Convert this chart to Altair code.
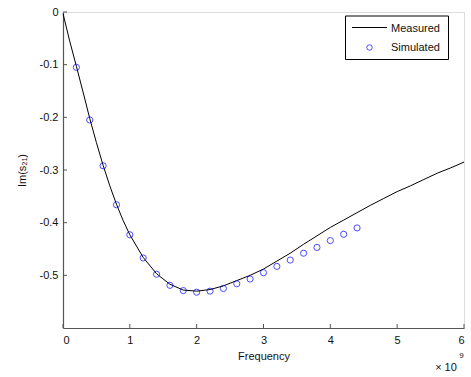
import altair as alt
import pandas as pd

# ---- data (frequency in units of 1e9 Hz) ----
freq_meas = [0.0, 0.1, 0.2, 0.3, 0.4, 0.5, 0.6, 0.7, 0.8, 0.9, 1.0, 1.2, 1.4, 1.6, 1.8,
             2.0, 2.2, 2.4, 2.6, 2.8, 3.0, 3.2, 3.4, 3.6, 3.8, 4.0, 4.2, 4.4, 4.6, 4.8,
             5.0, 5.2, 5.4, 5.6, 5.8, 6.0]
im_meas = [-0.003, -0.055, -0.103, -0.152, -0.202, -0.248, -0.291, -0.330, -0.365, -0.396,
           -0.423, -0.466, -0.497, -0.517, -0.528, -0.530, -0.527, -0.520, -0.510, -0.500,
           -0.488, -0.473, -0.458, -0.441, -0.425, -0.409, -0.395, -0.381, -0.367, -0.354,
           -0.341, -0.330, -0.318, -0.306, -0.296, -0.285]

freq_sim = [0.2, 0.4, 0.6, 0.8, 1.0, 1.2, 1.4, 1.6, 1.8, 2.0, 2.2, 2.4, 2.6, 2.8, 3.0,
            3.2, 3.4, 3.6, 3.8, 4.0, 4.2, 4.4]
im_sim = [-0.105, -0.205, -0.292, -0.366, -0.423, -0.467, -0.498, -0.519, -0.529, -0.532,
          -0.530, -0.525, -0.516, -0.507, -0.495, -0.483, -0.471, -0.458, -0.447, -0.434,
          -0.422, -0.410]

x_ticks = [0, 1, 2, 3, 4, 5, 6]
y_ticks = [0, -0.1, -0.2, -0.3, -0.4, -0.5]
legend_labels = ["Measured", "Simulated"]
x_title = "Frequency"
y_title = "Im(s\u2082\u2081)"
exp_base = "\u00d7 10"
exp_power = "9"

W, H = 401, 316
FONT = "Liberation Sans"
AX = "#555555"

xs = alt.Scale(domain=[0, 6], nice=False, zero=False)
ys = alt.Scale(domain=[-0.6, 0], nice=False, zero=False)

meas = pd.DataFrame({"x": freq_meas, "y": im_meas})
sim = pd.DataFrame({"x": freq_sim, "y": im_sim})
xt = pd.DataFrame({"x": x_ticks})
yt = pd.DataFrame({"y": y_ticks})
one = pd.DataFrame({"k": [0]})

x_axis = alt.Axis(values=x_ticks, title=x_title, grid=False, ticks=False,
                  domainColor=AX, domainWidth=1.2, labelPadding=6,
                  labelFont=FONT, labelFontSize=11, labelColor="#111",
                  titleFont=FONT, titleFontSize=11, titleFontWeight="normal",
                  titleColor="#111", titlePadding=5, format="d")
y_axis = alt.Axis(values=y_ticks, title=y_title, grid=False, ticks=False,
                  domainColor=AX, domainWidth=1.2, labelPadding=5,
                  labelFont=FONT, labelFontSize=11, labelColor="#111",
                  labelExpr="datum.value == 0 ? '0' : '-' + format(abs(datum.value), '.1f')",
                  titleFont=FONT, titleFontSize=11, titleFontWeight="normal",
                  titleColor="#111", titlePadding=12)

line = alt.Chart(meas).mark_line(color="black", strokeWidth=1).encode(
    x=alt.X("x:Q", scale=xs, axis=x_axis),
    y=alt.Y("y:Q", scale=ys, axis=y_axis),
)

points = alt.Chart(sim).mark_point(shape="circle", filled=False, color="#0000ff",
                                   size=38, strokeWidth=1).encode(
    x=alt.X("x:Q", scale=xs),
    y=alt.Y("y:Q", scale=ys),
)

xtick = alt.Chart(xt).mark_rule(color=AX, strokeWidth=1).encode(
    x=alt.X("x:Q", scale=xs), y=alt.value(H), y2=alt.value(H - 4))
ytick = alt.Chart(yt).mark_rule(color=AX, strokeWidth=1).encode(
    y=alt.Y("y:Q", scale=ys), x=alt.value(0), x2=alt.value(4))

# legend
leg_box = alt.Chart(one).mark_rect(fill="white", stroke="black", strokeWidth=1).encode(
    x=alt.value(282.5), x2=alt.value(385.5), y=alt.value(4), y2=alt.value(47.5))
leg_line = alt.Chart(one).mark_rule(color="black", strokeWidth=1).encode(
    x=alt.value(289), x2=alt.value(324), y=alt.value(15.5))
leg_pt = alt.Chart(one).mark_point(shape="circle", filled=False, color="#0000ff",
                                   size=30, strokeWidth=1).encode(
    x=alt.value(306.5), y=alt.value(35.5))
leg_t1 = alt.Chart(one).mark_text(text=legend_labels[0], align="left", baseline="middle",
                                  font=FONT, fontSize=11, color="#111").encode(
    x=alt.value(328), y=alt.value(17))
leg_t2 = alt.Chart(one).mark_text(text=legend_labels[1], align="left", baseline="middle",
                                  font=FONT, fontSize=11, color="#111").encode(
    x=alt.value(328), y=alt.value(36))

exp1 = alt.Chart(one).mark_text(text=exp_base, align="center", baseline="middle",
                                font=FONT, fontSize=11, color="#111").encode(
    x=alt.value(383), y=alt.value(356))
exp2 = alt.Chart(one).mark_text(text=exp_power, align="center", baseline="middle",
                                font=FONT, fontSize=8, color="#111").encode(
    x=alt.value(398.5), y=alt.value(344))

chart = alt.layer(line, points, xtick, ytick, leg_box, leg_line, leg_pt, leg_t1, leg_t2,
                  exp1, exp2).properties(
    width=W, height=H,
    autosize=alt.AutoSizeParams(type="none"),
    padding={"left": 63, "top": 12, "right": 7, "bottom": 49},
).configure_view(stroke=None).configure(background="white")

chart.save("out.html", embed_options={"renderer": "svg", "actions": False})
